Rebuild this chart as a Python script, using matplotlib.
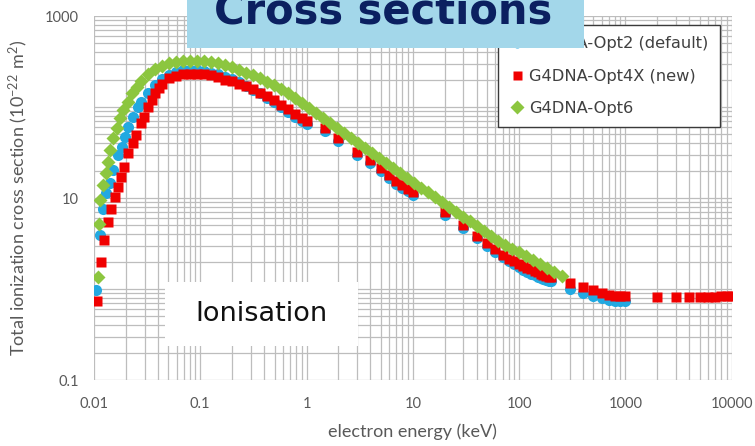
import matplotlib

matplotlib.use("Agg")
import matplotlib.pyplot as plt
from matplotlib.patches import Rectangle
from matplotlib.ticker import FixedLocator, LogLocator, NullFormatter

# ---- data (energy in keV, sigma in 1e-22 m^2) ----
opt2_energy = [
    0.0105, 0.0113, 0.0122, 0.0131, 0.0141, 0.0151, 0.0168, 0.0182, 0.0196, 0.0210,
    0.0235, 0.0261, 0.0277, 0.0323, 0.0375, 0.0437, 0.0508, 0.0592, 0.0689, 0.0802,
    0.0933, 0.109, 0.126, 0.147, 0.171, 0.199, 0.232, 0.270, 0.314, 0.366,
    0.426, 0.495, 0.577, 0.671, 0.781, 0.909, 1, 1.5, 2, 3,
    4, 5, 6, 7, 8, 9, 10, 20, 30, 40,
    50, 60, 70, 80, 90, 100, 110, 120, 130, 140,
    150, 160, 170, 180, 190, 200, 300, 400, 500, 600,
    700, 800, 900, 1000,
]
opt2_sigma = [
    0.975, 3.92, 7.57, 11.3, 14.5, 20.3, 29.7, 36.6, 47.2, 60.8,
    78.2, 101, 113, 144, 174, 203, 226, 245, 252, 255,
    254, 249, 239, 228, 214, 201, 186, 170, 155, 141,
    127, 113, 100, 88.1, 78.6, 70.2, 65, 54.2, 42.1, 30.0,
    24.4, 19.7, 16.6, 14.4, 12.9, 11.8, 10.9, 6.58, 4.64, 3.60,
    2.96, 2.53, 2.22, 2.01, 1.87, 1.75, 1.61, 1.54, 1.48, 1.42,
    1.37, 1.33, 1.30, 1.26, 1.23, 1.21, 1.01, 0.915, 0.847, 0.799,
    0.766, 0.746, 0.737, 0.731,
]

opt4x_energy = [
    0.0106, 0.0116, 0.0124, 0.0136, 0.0146, 0.0157, 0.0168, 0.0181, 0.0192, 0.0209,
    0.0235, 0.0247, 0.0277, 0.0298, 0.0323, 0.0348, 0.0375, 0.0405, 0.0437, 0.0508,
    0.0592, 0.0689, 0.0802, 0.0933, 0.109, 0.126, 0.147, 0.171, 0.199, 0.232,
    0.270, 0.314, 0.366, 0.426, 0.495, 0.577, 0.671, 0.781, 0.909, 1,
    1.5, 2, 3, 4, 5, 6, 7, 8, 9, 10,
    20, 30, 40, 50, 60, 70, 80, 90, 100, 110,
    120, 130, 140, 150, 160, 170, 180, 190, 200, 300,
    400, 500, 600, 700, 800, 900, 1000, 2000, 3000, 4000,
    5000, 6000, 7000, 8000, 9000, 10000,
]
opt4x_sigma = [
    0.74, 1.96, 3.46, 5.45, 7.51, 10.3, 13.3, 17.1, 22.1, 31.0,
    39.9, 49.2, 66.7, 78.2, 101, 119, 141, 160, 179, 206,
    219, 228, 233, 233, 230, 222, 211, 200, 192, 181,
    169, 156, 143, 131, 118, 105, 93.9, 84.2, 75.7, 70,
    58.3, 45.3, 32.3, 26.2, 21.2, 17.9, 15.5, 13.9, 12.7, 11.7,
    7.07, 4.99, 3.87, 3.18, 2.72, 2.39, 2.16, 2.01, 1.88, 1.79,
    1.71, 1.64, 1.58, 1.53, 1.48, 1.44, 1.40, 1.37, 1.34, 1.15,
    1.04, 0.963, 0.908, 0.870, 0.848, 0.838, 0.831, 0.807, 0.807, 0.812,
    0.817, 0.821, 0.826, 0.828, 0.828, 0.830,
]

opt6_energy = [
    0.0108, 0.0112, 0.0115, 0.0122, 0.0129, 0.0136, 0.0142, 0.0152, 0.0164, 0.0176,
    0.0189, 0.0208, 0.0227, 0.0252, 0.0277, 0.0323, 0.0375, 0.0437, 0.0508, 0.0592,
    0.0689, 0.0802, 0.0933, 0.109, 0.126, 0.147, 0.171, 0.199, 0.232, 0.270,
    0.314, 0.366, 0.426, 0.495, 0.577, 0.671, 0.781, 0.909, 1.06, 1.23,
    1.43, 1.67, 1.94, 2.26, 2.63, 3.06, 3.56, 4.15, 4.83, 5.62,
    6.54, 7.61, 8.86, 10.3, 12.0, 14.0, 16.3, 18.9, 22.0, 25.6,
    29.8, 34.7, 40.4, 47.0, 54.7, 63.7, 74.2, 86.3, 100, 117,
    136, 158, 184, 215, 256,
]
opt6_sigma = [
    1.36, 5.2, 9.5, 13.9, 18.7, 25.1, 33.7, 45.3, 58.3, 75.1,
    92.7, 114, 141, 167, 194, 233, 260, 285, 305, 315,
    321, 323, 323, 319, 312, 304, 289, 273, 257, 239,
    223, 207, 189, 173, 158, 141, 126, 112, 98.7, 87.0,
    76.5, 67.4, 59.4, 52.2, 46.0, 40.4, 35.6, 31.4, 27.6, 24.3,
    21.4, 18.8, 16.7, 14.7, 13.0, 11.55, 10.2, 9.04, 8.01, 7.09,
    6.26, 5.55, 4.91, 4.34, 3.84, 3.40, 3.06, 2.78, 2.52, 2.29,
    2.07, 1.88, 1.71, 1.55, 1.39,
]

x_ticks = [0.01, 0.1, 1, 10, 100, 1000, 10000]
x_tick_labels = ["0.01", "0.1", "1", "10", "100", "1000", "10000"]
y_ticks = [0.1, 1, 10, 100, 1000]
y_tick_labels = ["0.1", "", "10", "", "1000"]

BLUE = "#22a9e1"
RED = "#f00000"
GREEN = "#8cc63f"
AXIS_GRAY = "#595959"

W, H = 755, 446
fig = plt.figure(figsize=(W / 100, H / 100), dpi=100)
ax = fig.add_axes([94 / W, 1 - 380 / H, (731.5 - 94) / W, (380 - 16) / H])
ax.set_xscale("log")
ax.set_yscale("log")

ax.plot(opt2_energy, opt2_sigma, "o", color=BLUE, ms=8, mec="none",
        label="G4DNA-Opt2 (default)", zorder=3)
ax.plot(opt4x_energy, opt4x_sigma, "s", color=RED, ms=7.2, mec="none",
        label="G4DNA-Opt4X (new)", zorder=4)
ax.plot(opt6_energy, opt6_sigma, "D", color=GREEN, ms=7.6, mec="none",
        label="G4DNA-Opt6", zorder=5)

ax.set_xlim(0.01, 10000)
ax.set_ylim(0.1, 1000)

ax.xaxis.set_major_locator(FixedLocator(x_ticks))
ax.set_xticklabels(x_tick_labels)
ax.yaxis.set_major_locator(FixedLocator(y_ticks))
ax.set_yticklabels(y_tick_labels)
for axis in (ax.xaxis, ax.yaxis):
    axis.set_minor_locator(LogLocator(base=10, subs=range(2, 10), numticks=30))
    axis.set_minor_formatter(NullFormatter())

ax.grid(True, which="both", color="#bdbdbd", lw=0.9)
ax.set_axisbelow(True)
for s in ax.spines.values():
    s.set_visible(False)
ax.tick_params(which="both", length=0)
ax.tick_params(axis="x", pad=12, labelsize=10.5, labelcolor=AXIS_GRAY)
ax.tick_params(axis="y", pad=11, labelsize=10.5, labelcolor=AXIS_GRAY)
for lab in ax.get_xticklabels() + ax.get_yticklabels():
    lab.set_fontfamily("Lato")

ax.set_ylabel(r"Total ionization cross section ($\mathregular{10^{-22}\ m^{2}}$)",
              fontsize=13, color=AXIS_GRAY, family="Lato")
ax.yaxis.set_label_coords(-0.1, 0.5)
ax.set_xlabel("electron energy (keV)", fontsize=13, color=AXIS_GRAY, family="Lato")
ax.xaxis.set_label_coords(0.5, -0.12)

leg = ax.legend(loc="upper left", bbox_to_anchor=(0.634, 0.975), borderaxespad=0,
                frameon=True, fancybox=False, framealpha=1, edgecolor="#3a3a3a",
                prop={"family": "DejaVu Sans", "size": 11.7}, labelspacing=1.05,
                handletextpad=0.3, handlelength=0.9, borderpad=0.7, markerscale=0.9)
leg.get_frame().set_linewidth(1.0)
for t in leg.get_texts():
    t.set_color("#404040")

# title banner over the top of the plot
fig.add_artist(Rectangle((187 / W, 1 - 48 / H), (584 - 187) / W, 60 / H,
                         transform=fig.transFigure, facecolor="#a3d7ea",
                         edgecolor="none", zorder=5))
fig.text(383.5 / W, 1 - 24 / H, "Cross sections", ha="center", va="baseline",
         fontsize=30, weight="bold", color="#0b2060", zorder=6)

# "Ionisation" label box
fig.add_artist(Rectangle((165 / W, 1 - 346 / H), 193 / W, 64 / H,
                         transform=fig.transFigure, facecolor="white",
                         edgecolor="none", zorder=5))
fig.text(261 / W, 1 - 314 / H, "Ionisation", ha="center", va="center",
         fontsize=19.5, color="#111111", zorder=6)

fig.savefig("out.png", dpi=100)
